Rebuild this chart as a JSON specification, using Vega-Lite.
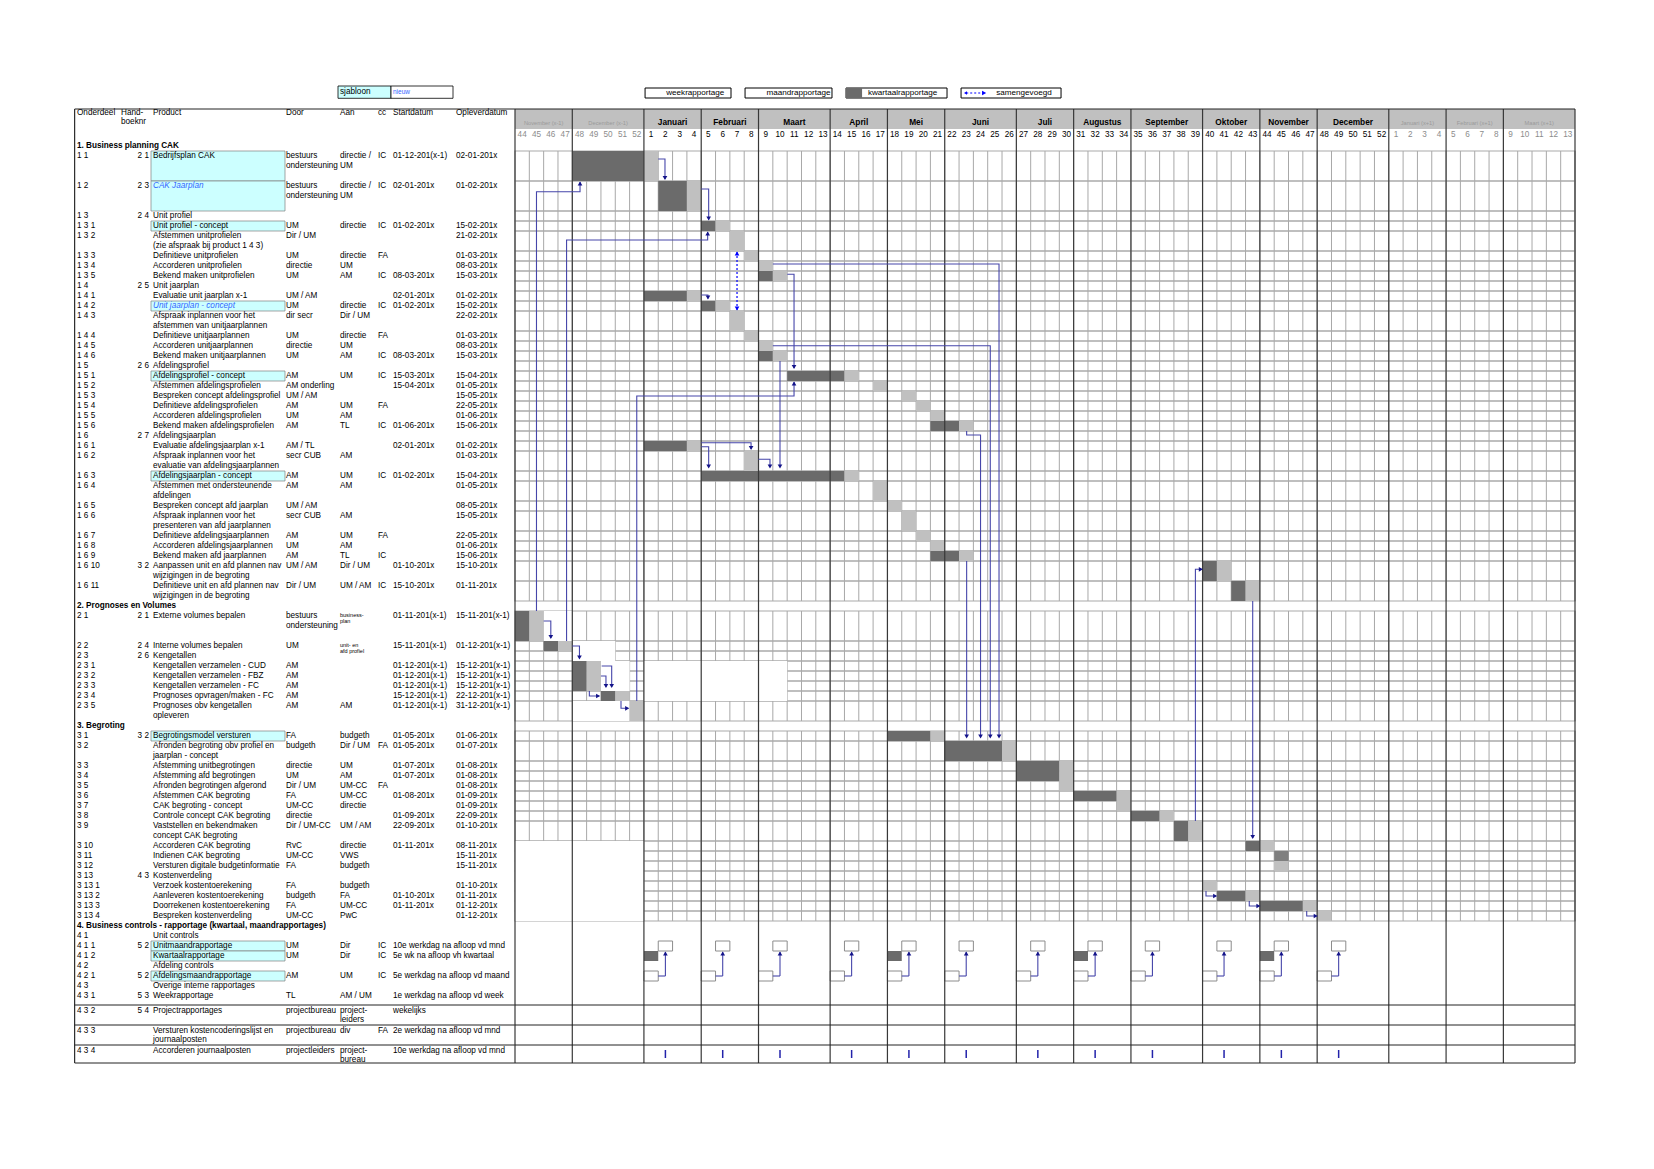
{
"$schema":"https://vega.github.io/schema/vega-lite/v6.json",
"background":"white",
"padding":{"left":74,"top":76,"right":10,"bottom":10},
"spacing":0,
"bounds":"flush",
"config":{"view":{"stroke":null},"font":"Liberation Sans"},
"datasets":{
"cols":[{"col":"nr","ci":0},{"col":"hh","ci":1},{"col":"pr","ci":3},{"col":"do","ci":4},{"col":"aa","ci":5},{"col":"cc","ci":6},{"col":"st","ci":7},{"col":"ei","ci":8}],
"tbl":[
{"r":-3.3,"nr":"Onderdeel","hh":"Hand-","pr":"Product","do":"Door","aa":"Aan","cc":"cc","st":"Startdatum","ei":"Opleverdatum"},
{"r":-2.4,"hh":"boeknr"},
{"r":1,"nr":"1 1","hb":"2 1","pr":"Bedrijfsplan CAK","do":"bestuurs","aa":"directie /","cc":"IC","st":"01-12-201(x-1)","ei":"02-01-201x"},
{"r":2,"do":"ondersteuning","aa":"UM"},
{"r":4,"nr":"1 2","hb":"2 3","do":"bestuurs","aa":"directie /","cc":"IC","st":"02-01-201x","ei":"01-02-201x"},
{"r":5,"do":"ondersteuning","aa":"UM"},
{"r":7,"nr":"1 3","hb":"2 4","pr":"Unit profiel"},
{"r":8,"nr":"1 3 1","pr":"Unit profiel - concept","do":"UM","aa":"directie","cc":"IC","st":"01-02-201x","ei":"15-02-201x"},
{"r":9,"nr":"1 3 2","pr":"Afstemmen unitprofielen","do":"Dir / UM","ei":"21-02-201x"},
{"r":10,"pr":"(zie afspraak bij product 1 4 3)"},
{"r":11,"nr":"1 3 3","pr":"Definitieve unitprofielen","do":"UM","aa":"directie","cc":"FA","ei":"01-03-201x"},
{"r":12,"nr":"1 3 4","pr":"Accorderen unitprofielen","do":"directie","aa":"UM","ei":"08-03-201x"},
{"r":13,"nr":"1 3 5","pr":"Bekend maken unitprofielen","do":"UM","aa":"AM","cc":"IC","st":"08-03-201x","ei":"15-03-201x"},
{"r":14,"nr":"1 4","hb":"2 5","pr":"Unit jaarplan"},
{"r":15,"nr":"1 4 1","pr":"Evaluatie unit jaarplan x-1","do":"UM / AM","st":"02-01-201x","ei":"01-02-201x"},
{"r":16,"nr":"1 4 2","do":"UM","aa":"directie","cc":"IC","st":"01-02-201x","ei":"15-02-201x"},
{"r":17,"nr":"1 4 3","pr":"Afspraak inplannen voor het","do":"dir secr","aa":"Dir / UM","ei":"22-02-201x"},
{"r":18,"pr":"afstemmen van unitjaarplannen"},
{"r":19,"nr":"1 4 4","pr":"Definitieve unitjaarplannen","do":"UM","aa":"directie","cc":"FA","ei":"01-03-201x"},
{"r":20,"nr":"1 4 5","pr":"Accorderen unitjaarplannen","do":"directie","aa":"UM","ei":"08-03-201x"},
{"r":21,"nr":"1 4 6","pr":"Bekend maken unitjaarplannen","do":"UM","aa":"AM","cc":"IC","st":"08-03-201x","ei":"15-03-201x"},
{"r":22,"nr":"1 5","hb":"2 6","pr":"Afdelingsprofiel"},
{"r":23,"nr":"1 5 1","pr":"Afdelingsprofiel - concept","do":"AM","aa":"UM","cc":"IC","st":"15-03-201x","ei":"15-04-201x"},
{"r":24,"nr":"1 5 2","pr":"Afstemmen afdelingsprofielen","do":"AM onderling","st":"15-04-201x","ei":"01-05-201x"},
{"r":25,"nr":"1 5 3","pr":"Bespreken concept afdelingsprofiel","do":"UM / AM","ei":"15-05-201x"},
{"r":26,"nr":"1 5 4","pr":"Definitieve afdelingsprofielen","do":"AM","aa":"UM","cc":"FA","ei":"22-05-201x"},
{"r":27,"nr":"1 5 5","pr":"Accorderen afdelingsprofielen","do":"UM","aa":"AM","ei":"01-06-201x"},
{"r":28,"nr":"1 5 6","pr":"Bekend maken afdelingsprofielen","do":"AM","aa":"TL","cc":"IC","st":"01-06-201x","ei":"15-06-201x"},
{"r":29,"nr":"1 6","hb":"2 7","pr":"Afdelingsjaarplan"},
{"r":30,"nr":"1 6 1","pr":"Evaluatie afdelingsjaarplan x-1","do":"AM / TL","st":"02-01-201x","ei":"01-02-201x"},
{"r":31,"nr":"1 6 2","pr":"Afspraak inplannen voor het","do":"secr CUB","aa":"AM","ei":"01-03-201x"},
{"r":32,"pr":"evaluatie van afdelingsjaarplannen"},
{"r":33,"nr":"1 6 3","pr":"Afdelingsjaarplan - concept","do":"AM","aa":"UM","cc":"IC","st":"01-02-201x","ei":"15-04-201x"},
{"r":34,"nr":"1 6 4","pr":"Afstemmen met ondersteunende","do":"AM","aa":"AM","ei":"01-05-201x"},
{"r":35,"pr":"afdelingen"},
{"r":36,"nr":"1 6 5","pr":"Bespreken concept afd jaarplan","do":"UM / AM","ei":"08-05-201x"},
{"r":37,"nr":"1 6 6","pr":"Afspraak inplannen voor het","do":"secr CUB","aa":"AM","ei":"15-05-201x"},
{"r":38,"pr":"presenteren van afd jaarplannen"},
{"r":39,"nr":"1 6 7","pr":"Definitieve afdelingsjaarplannen","do":"AM","aa":"UM","cc":"FA","ei":"22-05-201x"},
{"r":40,"nr":"1 6 8","pr":"Accorderen afdelingsjaarplannen","do":"UM","aa":"AM","ei":"01-06-201x"},
{"r":41,"nr":"1 6 9","pr":"Bekend maken afd jaarplannen","do":"AM","aa":"TL","cc":"IC","ei":"15-06-201x"},
{"r":42,"nr":"1 6 10","hb":"3 2","pr":"Aanpassen unit en afd plannen nav","do":"UM / AM","aa":"Dir / UM","st":"01-10-201x","ei":"15-10-201x"},
{"r":43,"pr":"wijzigingen in de begroting"},
{"r":44,"nr":"1 6 11","pr":"Definitieve unit en afd plannen nav","do":"Dir / UM","aa":"UM / AM","cc":"IC","st":"15-10-201x","ei":"01-11-201x"},
{"r":45,"pr":"wijzigingen in de begroting"},
{"r":47,"nr":"2 1","hb":"2 1","pr":"Externe volumes bepalen","do":"bestuurs","st":"01-11-201(x-1)","ei":"15-11-201(x-1)"},
{"r":48,"do":"ondersteuning"},
{"r":50,"nr":"2 2","hb":"2 4","pr":"Interne volumes bepalen","do":"UM","st":"15-11-201(x-1)","ei":"01-12-201(x-1)"},
{"r":51,"nr":"2 3","hb":"2 6","pr":"Kengetallen"},
{"r":52,"nr":"2 3 1","pr":"Kengetallen verzamelen - CUD","do":"AM","st":"01-12-201(x-1)","ei":"15-12-201(x-1)"},
{"r":53,"nr":"2 3 2","pr":"Kengetallen verzamelen - FBZ","do":"AM","st":"01-12-201(x-1)","ei":"15-12-201(x-1)"},
{"r":54,"nr":"2 3 3","pr":"Kengetallen verzamelen - FC","do":"AM","st":"01-12-201(x-1)","ei":"15-12-201(x-1)"},
{"r":55,"nr":"2 3 4","pr":"Prognoses opvragen/maken - FC","do":"AM","st":"15-12-201(x-1)","ei":"22-12-201(x-1)"},
{"r":56,"nr":"2 3 5","pr":"Prognoses obv kengetallen","do":"AM","aa":"AM","st":"01-12-201(x-1)","ei":"31-12-201(x-1)"},
{"r":57,"pr":"opleveren"},
{"r":59,"nr":"3 1","hb":"3 2","pr":"Begrotingsmodel versturen","do":"FA","aa":"budgeth","st":"01-05-201x","ei":"01-06-201x"},
{"r":60,"nr":"3 2","pr":"Afronden begroting obv profiel en","do":"budgeth","aa":"Dir / UM","cc":"FA","st":"01-05-201x","ei":"01-07-201x"},
{"r":61,"pr":"jaarplan - concept"},
{"r":62,"nr":"3 3","pr":"Afstemming unitbegrotingen","do":"directie","aa":"UM","st":"01-07-201x","ei":"01-08-201x"},
{"r":63,"nr":"3 4","pr":"Afstemming afd begrotingen","do":"UM","aa":"AM","st":"01-07-201x","ei":"01-08-201x"},
{"r":64,"nr":"3 5","pr":"Afronden begrotingen afgerond","do":"Dir / UM","aa":"UM-CC","cc":"FA","ei":"01-08-201x"},
{"r":65,"nr":"3 6","pr":"Afstemmen CAK begroting","do":"FA","aa":"UM-CC","st":"01-08-201x","ei":"01-09-201x"},
{"r":66,"nr":"3 7","pr":"CAK begroting - concept","do":"UM-CC","aa":"directie","ei":"01-09-201x"},
{"r":67,"nr":"3 8","pr":"Controle concept CAK begroting","do":"directie","st":"01-09-201x","ei":"22-09-201x"},
{"r":68,"nr":"3 9","pr":"Vaststellen en bekendmaken","do":"Dir / UM-CC","aa":"UM / AM","st":"22-09-201x","ei":"01-10-201x"},
{"r":69,"pr":"concept CAK begroting"},
{"r":70,"nr":"3 10","pr":"Accorderen CAK begroting","do":"RvC","aa":"directie","st":"01-11-201x","ei":"08-11-201x"},
{"r":71,"nr":"3 11","pr":"Indienen CAK begroting","do":"UM-CC","aa":"VWS","ei":"15-11-201x"},
{"r":72,"nr":"3 12","pr":"Versturen digitale budgetinformatie","do":"FA","aa":"budgeth","ei":"15-11-201x"},
{"r":73,"nr":"3 13","hb":"4 3","pr":"Kostenverdeling"},
{"r":74,"nr":"3 13 1","pr":"Verzoek kostentoerekening","do":"FA","aa":"budgeth","ei":"01-10-201x"},
{"r":75,"nr":"3 13 2","pr":"Aanleveren kostentoerekening","do":"budgeth","aa":"FA","st":"01-10-201x","ei":"01-11-201x"},
{"r":76,"nr":"3 13 3","pr":"Doorrekenen kostentoerekening","do":"FA","aa":"UM-CC","st":"01-11-201x","ei":"01-12-201x"},
{"r":77,"nr":"3 13 4","pr":"Bespreken kostenverdeling","do":"UM-CC","aa":"PwC","ei":"01-12-201x"},
{"r":79,"nr":"4 1","pr":"Unit controls"},
{"r":80,"nr":"4 1 1","hb":"5 2","pr":"Unitmaandrapportage","do":"UM","aa":"Dir","cc":"IC","st":"10e werkdag na afloop vd mnd"},
{"r":81,"nr":"4 1 2","pr":"Kwartaalrapportage","do":"UM","aa":"Dir","cc":"IC","st":"5e wk na afloop vh kwartaal"},
{"r":82,"nr":"4 2","pr":"Afdeling controls"},
{"r":83,"nr":"4 2 1","hb":"5 2","pr":"Afdelingsmaandrapportage","do":"AM","aa":"UM","cc":"IC","st":"5e werkdag na afloop vd maand"},
{"r":84,"nr":"4 3","pr":"Overige interne rapportages"},
{"r":85,"nr":"4 3 1","hb":"5 3","pr":"Weekrapportage","do":"TL","aa":"AM / UM","st":"1e werkdag na afloop vd week"},
{"r":86.5,"nr":"4 3 2","hb":"5 4","pr":"Projectrapportages","do":"projectbureau","aa":"project-","st":"wekelijks"},
{"r":87.4,"aa":"leiders"},
{"r":88.5,"nr":"4 3 3","pr":"Versturen kostencoderingslijst en","do":"projectbureau","aa":"div","cc":"FA","st":"2e werkdag na afloop vd mnd"},
{"r":89.4,"pr":"journaalposten"},
{"r":90.5,"nr":"4 3 4","pr":"Accorderen journaalposten","do":"projectleiders","aa":"project-","st":"10e werkdag na afloop vd mnd"},
{"r":91.4,"aa":"bureau"}
],
"secs":[{"r":0,"t":"1. Business planning CAK"},{"r":46,"t":"2. Prognoses en Volumes"},{"r":58,"t":"3. Begroting"},{"r":78,"t":"4. Business controls - rapportage (kwartaal, maandrapportages)"}],
"ital":[{"r":4,"t":"CAK Jaarplan"},{"r":16,"t":"Unit jaarplan - concept"}],
"small":[{"r":46.9,"t":"business-"},{"r":47.5,"t":"plan"},{"r":49.85,"t":"unit- en"},{"r":50.45,"t":"afd profiel"}],
"concepts":[{"r":1,"e":3},{"r":4,"e":6},{"r":8,"e":8},{"r":16,"e":16},{"r":23,"e":23},{"r":33,"e":33},{"r":59,"e":59},{"r":80,"e":80},{"r":81,"e":81},{"r":83,"e":83}],
"hl":[{"r":-3.7},{"r":85.9},{"r":87.9},{"r":89.9},{"r":91.7}],
"weeks":[
{"k":-8,"w":44,"m":"November (x-1)","yr":"p"},{"k":-7,"w":45,"m":"November (x-1)","yr":"p"},{"k":-6,"w":46,"m":"November (x-1)","yr":"p"},{"k":-5,"w":47,"m":"November (x-1)","yr":"p"},
{"k":-4,"w":48,"m":"December (x-1)","yr":"p"},{"k":-3,"w":49,"m":"December (x-1)","yr":"p"},{"k":-2,"w":50,"m":"December (x-1)","yr":"p"},{"k":-1,"w":51,"m":"December (x-1)","yr":"p"},{"k":0,"w":52,"m":"December (x-1)","yr":"p"},
{"k":1,"w":1,"m":"Januari","yr":"x"},{"k":2,"w":2,"m":"Januari","yr":"x"},{"k":3,"w":3,"m":"Januari","yr":"x"},{"k":4,"w":4,"m":"Januari","yr":"x"},
{"k":5,"w":5,"m":"Februari","yr":"x"},{"k":6,"w":6,"m":"Februari","yr":"x"},{"k":7,"w":7,"m":"Februari","yr":"x"},{"k":8,"w":8,"m":"Februari","yr":"x"},
{"k":9,"w":9,"m":"Maart","yr":"x"},{"k":10,"w":10,"m":"Maart","yr":"x"},{"k":11,"w":11,"m":"Maart","yr":"x"},{"k":12,"w":12,"m":"Maart","yr":"x"},{"k":13,"w":13,"m":"Maart","yr":"x"},
{"k":14,"w":14,"m":"April","yr":"x"},{"k":15,"w":15,"m":"April","yr":"x"},{"k":16,"w":16,"m":"April","yr":"x"},{"k":17,"w":17,"m":"April","yr":"x"},
{"k":18,"w":18,"m":"Mei","yr":"x"},{"k":19,"w":19,"m":"Mei","yr":"x"},{"k":20,"w":20,"m":"Mei","yr":"x"},{"k":21,"w":21,"m":"Mei","yr":"x"},
{"k":22,"w":22,"m":"Juni","yr":"x"},{"k":23,"w":23,"m":"Juni","yr":"x"},{"k":24,"w":24,"m":"Juni","yr":"x"},{"k":25,"w":25,"m":"Juni","yr":"x"},{"k":26,"w":26,"m":"Juni","yr":"x"},
{"k":27,"w":27,"m":"Juli","yr":"x"},{"k":28,"w":28,"m":"Juli","yr":"x"},{"k":29,"w":29,"m":"Juli","yr":"x"},{"k":30,"w":30,"m":"Juli","yr":"x"},
{"k":31,"w":31,"m":"Augustus","yr":"x"},{"k":32,"w":32,"m":"Augustus","yr":"x"},{"k":33,"w":33,"m":"Augustus","yr":"x"},{"k":34,"w":34,"m":"Augustus","yr":"x"},
{"k":35,"w":35,"m":"September","yr":"x"},{"k":36,"w":36,"m":"September","yr":"x"},{"k":37,"w":37,"m":"September","yr":"x"},{"k":38,"w":38,"m":"September","yr":"x"},{"k":39,"w":39,"m":"September","yr":"x"},
{"k":40,"w":40,"m":"Oktober","yr":"x"},{"k":41,"w":41,"m":"Oktober","yr":"x"},{"k":42,"w":42,"m":"Oktober","yr":"x"},{"k":43,"w":43,"m":"Oktober","yr":"x"},
{"k":44,"w":44,"m":"November","yr":"x"},{"k":45,"w":45,"m":"November","yr":"x"},{"k":46,"w":46,"m":"November","yr":"x"},{"k":47,"w":47,"m":"November","yr":"x"},
{"k":48,"w":48,"m":"December","yr":"x"},{"k":49,"w":49,"m":"December","yr":"x"},{"k":50,"w":50,"m":"December","yr":"x"},{"k":51,"w":51,"m":"December","yr":"x"},{"k":52,"w":52,"m":"December","yr":"x"},
{"k":53,"w":1,"m":"Januari (x+1)","yr":"n"},{"k":54,"w":2,"m":"Januari (x+1)","yr":"n"},{"k":55,"w":3,"m":"Januari (x+1)","yr":"n"},{"k":56,"w":4,"m":"Januari (x+1)","yr":"n"},
{"k":57,"w":5,"m":"Februari (x+1)","yr":"n"},{"k":58,"w":6,"m":"Februari (x+1)","yr":"n"},{"k":59,"w":7,"m":"Februari (x+1)","yr":"n"},{"k":60,"w":8,"m":"Februari (x+1)","yr":"n"},
{"k":61,"w":9,"m":"Maart (x+1)","yr":"n"},{"k":62,"w":10,"m":"Maart (x+1)","yr":"n"},{"k":63,"w":11,"m":"Maart (x+1)","yr":"n"},{"k":64,"w":12,"m":"Maart (x+1)","yr":"n"},{"k":65,"w":13,"m":"Maart (x+1)","yr":"n"}
],
"rows":[{"r":1,"e":3},{"r":4,"e":6},{"r":7,"e":7},{"r":8,"e":8},{"r":9,"e":10},{"r":11,"e":11},{"r":12,"e":12},{"r":13,"e":13},{"r":14,"e":14},{"r":15,"e":15},{"r":16,"e":16},{"r":17,"e":18},{"r":19,"e":19},{"r":20,"e":20},{"r":21,"e":21},{"r":22,"e":22},{"r":23,"e":23},{"r":24,"e":24},{"r":25,"e":25},{"r":26,"e":26},{"r":27,"e":27},{"r":28,"e":28},{"r":29,"e":29},{"r":30,"e":30},{"r":31,"e":32},{"r":33,"e":33},{"r":34,"e":35},{"r":36,"e":36},{"r":37,"e":38},{"r":39,"e":39},{"r":40,"e":40},{"r":41,"e":41},{"r":42,"e":43},{"r":44,"e":45},
{"r":47,"e":49},{"r":50,"e":50},{"r":51,"e":51},{"r":52,"e":52},{"r":53,"e":53},{"r":54,"e":54},{"r":55,"e":55},{"r":56,"e":57},
{"r":59,"e":59},{"r":60,"e":61},{"r":62,"e":62},{"r":63,"e":63},{"r":64,"e":64},{"r":65,"e":65},{"r":66,"e":66},{"r":67,"e":67},{"r":68,"e":69},{"r":70,"e":70},{"r":71,"e":71},{"r":72,"e":72},{"r":73,"e":73},{"r":74,"e":74},{"r":75,"e":75},{"r":76,"e":76},{"r":77,"e":77}],
"bars":[
{"r":47,"e":49,"s":-6,"f":-5,"t":"w"},{"r":50,"e":51,"s":-4,"f":-2,"t":"w"},{"r":52,"e":54,"s":-2,"f":-1,"t":"w"},{"r":52,"e":55,"s":1,"f":10,"t":"w"},{"r":56,"e":57,"s":-4,"f":-1,"t":"w"},{"r":70,"e":77,"s":-8,"f":0,"t":"w"},
{"r":1,"e":3,"s":-4,"f":0,"t":"d"},{"r":1,"e":3,"s":1,"f":1,"t":"g"},
{"r":4,"e":6,"s":2,"f":3,"t":"d"},{"r":4,"e":6,"s":4,"f":4,"t":"g"},
{"r":8,"e":8,"s":5,"f":5,"t":"d"},{"r":8,"e":8,"s":6,"f":6,"t":"g"},
{"r":9,"e":10,"s":7,"f":7,"t":"g"},
{"r":11,"e":11,"s":8,"f":8,"t":"g"},
{"r":12,"e":12,"s":9,"f":9,"t":"g"},
{"r":13,"e":13,"s":9,"f":9,"t":"d"},{"r":13,"e":13,"s":10,"f":10,"t":"g"},
{"r":15,"e":15,"s":1,"f":3,"t":"d"},{"r":15,"e":15,"s":4,"f":4,"t":"g"},
{"r":16,"e":16,"s":5,"f":5,"t":"d"},{"r":16,"e":16,"s":6,"f":6,"t":"g"},
{"r":17,"e":18,"s":7,"f":7,"t":"g"},
{"r":19,"e":19,"s":8,"f":8,"t":"g"},
{"r":20,"e":20,"s":9,"f":9,"t":"g"},
{"r":21,"e":21,"s":9,"f":9,"t":"d"},{"r":21,"e":21,"s":10,"f":10,"t":"g"},
{"r":23,"e":23,"s":11,"f":14,"t":"d"},{"r":23,"e":23,"s":15,"f":15,"t":"g"},
{"r":24,"e":24,"s":17,"f":17,"t":"g"},
{"r":25,"e":25,"s":19,"f":19,"t":"g"},
{"r":26,"e":26,"s":20,"f":20,"t":"g"},
{"r":27,"e":27,"s":21,"f":21,"t":"g"},
{"r":28,"e":28,"s":21,"f":22,"t":"d"},{"r":28,"e":28,"s":23,"f":23,"t":"g"},
{"r":30,"e":30,"s":1,"f":3,"t":"d"},{"r":30,"e":30,"s":4,"f":4,"t":"g"},
{"r":31,"e":32,"s":8,"f":8,"t":"g"},
{"r":33,"e":33,"s":5,"f":14,"t":"d"},{"r":33,"e":33,"s":15,"f":15,"t":"g"},
{"r":34,"e":35,"s":17,"f":17,"t":"g"},
{"r":36,"e":36,"s":18,"f":18,"t":"g"},
{"r":37,"e":38,"s":19,"f":19,"t":"g"},
{"r":39,"e":39,"s":20,"f":20,"t":"g"},
{"r":40,"e":40,"s":21,"f":21,"t":"g"},
{"r":41,"e":41,"s":21,"f":22,"t":"d"},{"r":41,"e":41,"s":23,"f":23,"t":"g"},
{"r":42,"e":43,"s":40,"f":40,"t":"d"},{"r":42,"e":43,"s":41,"f":41,"t":"g"},
{"r":44,"e":45,"s":42,"f":42,"t":"d"},{"r":44,"e":45,"s":43,"f":43,"t":"g"},
{"r":47,"e":49,"s":-8,"f":-8,"t":"d"},{"r":47,"e":49,"s":-7,"f":-7,"t":"g"},
{"r":50,"e":50,"s":-6,"f":-6,"t":"d"},{"r":50,"e":50,"s":-5,"f":-5,"t":"g"},
{"r":52,"e":54,"s":-4,"f":-4,"t":"d"},{"r":52,"e":52,"s":-3,"f":-3,"t":"g"},{"r":53,"e":53,"s":-3,"f":-3,"t":"g"},{"r":54,"e":54,"s":-3,"f":-3,"t":"g"},
{"r":55,"e":55,"s":-2,"f":-2,"t":"d"},{"r":55,"e":55,"s":-1,"f":-1,"t":"g"},
{"r":56,"e":57,"s":0,"f":0,"t":"g"},
{"r":59,"e":59,"s":18,"f":20,"t":"d"},{"r":59,"e":59,"s":21,"f":21,"t":"g"},
{"r":60,"e":61,"s":22,"f":25,"t":"d"},{"r":60,"e":61,"s":26,"f":26,"t":"g"},
{"r":62,"e":63,"s":27,"f":29,"t":"d"},{"r":62,"e":62,"s":30,"f":30,"t":"g"},{"r":63,"e":63,"s":30,"f":30,"t":"g"},
{"r":64,"e":64,"s":30,"f":30,"t":"g"},
{"r":65,"e":65,"s":31,"f":33,"t":"d"},{"r":65,"e":65,"s":34,"f":34,"t":"g"},
{"r":66,"e":66,"s":34,"f":34,"t":"g"},
{"r":67,"e":67,"s":35,"f":36,"t":"d"},{"r":67,"e":67,"s":37,"f":37,"t":"g"},
{"r":68,"e":69,"s":38,"f":38,"t":"d"},{"r":68,"e":69,"s":39,"f":39,"t":"g"},
{"r":70,"e":70,"s":43,"f":43,"t":"d"},{"r":70,"e":70,"s":44,"f":44,"t":"g"},
{"r":71,"e":71,"s":45,"f":45,"t":"m"},
{"r":72,"e":72,"s":45,"f":45,"t":"g"},
{"r":74,"e":74,"s":40,"f":40,"t":"g"},
{"r":75,"e":75,"s":41,"f":42,"t":"d"},{"r":75,"e":75,"s":43,"f":43,"t":"g"},
{"r":76,"e":76,"s":44,"f":46,"t":"d"},{"r":76,"e":76,"s":47,"f":47,"t":"g"},
{"r":77,"e":77,"s":48,"f":48,"t":"g"},
{"r":81,"e":81,"s":1,"f":1,"t":"d"},{"r":81,"e":81,"s":18,"f":18,"t":"d"},{"r":81,"e":81,"s":31,"f":31,"t":"d"},{"r":81,"e":81,"s":44,"f":44,"t":"d"}
],
"mrep":[{"a":1,"u":2},{"a":5,"u":6},{"a":9,"u":10},{"a":14,"u":15},{"a":18,"u":19},{"a":22,"u":23},{"a":27,"u":28},{"a":31,"u":32},{"a":35,"u":36},{"a":40,"u":41},{"a":44,"u":45},{"a":48,"u":49}],
"arrows":[
{"id":1,"o":1,"x":1.5,"r":1.3},{"id":1,"o":2,"x":1.97,"r":1.3},{"id":1,"o":3,"x":1.97,"r":3.3},
{"id":2,"o":1,"x":4.5,"r":4.3},{"id":2,"o":2,"x":5.02,"r":4.3},{"id":2,"o":3,"x":5.02,"r":7.35},
{"id":3,"o":1,"x":-7,"r":46.5},{"id":3,"o":2,"x":-7,"r":4.57},{"id":3,"o":3,"x":-3.96,"r":4.57},{"id":3,"o":4,"x":-3.96,"r":3.6},
{"id":4,"o":1,"x":-4.9,"r":49.5},{"id":4,"o":2,"x":-4.9,"r":9.4},{"id":4,"o":3,"x":4.95,"r":9.4},{"id":4,"o":4,"x":4.95,"r":8.6},
{"id":6,"o":1,"x":9.5,"r":11.8},{"id":6,"o":2,"x":25.29,"r":11.8},{"id":6,"o":3,"x":25.29,"r":59.1},
{"id":7,"o":1,"x":9.5,"r":19.97},{"id":7,"o":2,"x":24.68,"r":19.97},{"id":7,"o":3,"x":24.68,"r":59.1},
{"id":8,"o":1,"x":23.03,"r":28.5},{"id":8,"o":2,"x":23.03,"r":28.9},{"id":8,"o":3,"x":24.0,"r":28.9},{"id":8,"o":4,"x":24.0,"r":59.1},
{"id":9,"o":1,"x":23.03,"r":41.5},{"id":9,"o":2,"x":23.03,"r":59.1},
{"id":10,"o":1,"x":10.51,"r":12.83},{"id":10,"o":2,"x":10.98,"r":12.83},{"id":10,"o":3,"x":10.98,"r":22.2},
{"id":11,"o":1,"x":0,"r":55.5},{"id":11,"o":2,"x":0,"r":25},{"id":11,"o":3,"x":10.98,"r":25},{"id":11,"o":4,"x":10.98,"r":23.6},
{"id":12,"o":1,"x":10,"r":21.5},{"id":12,"o":2,"x":10,"r":32.1},
{"id":13,"o":1,"x":4.5,"r":14.9},{"id":13,"o":2,"x":4.97,"r":14.9},{"id":13,"o":3,"x":4.97,"r":15.25},
{"id":14,"o":1,"x":4.5,"r":29.67},{"id":14,"o":2,"x":7.98,"r":29.67},{"id":14,"o":3,"x":7.98,"r":30.3},
{"id":15,"o":1,"x":4.5,"r":30.07},{"id":15,"o":2,"x":5.02,"r":30.07},{"id":15,"o":3,"x":5.02,"r":32.1},
{"id":16,"o":1,"x":8.49,"r":31.33},{"id":16,"o":2,"x":9.3,"r":31.33},{"id":16,"o":3,"x":9.3,"r":32.1},
{"id":17,"o":1,"x":-6.5,"r":47.5},{"id":17,"o":2,"x":-6.0,"r":47.5},{"id":17,"o":3,"x":-6.0,"r":49.2},
{"id":18,"o":1,"x":-4.5,"r":50},{"id":18,"o":2,"x":-4.0,"r":50},{"id":18,"o":3,"x":-4.0,"r":51.23},
{"id":19,"o":1,"x":-2.45,"r":52},{"id":19,"o":2,"x":-1.75,"r":52},{"id":19,"o":3,"x":-1.75,"r":54.07},
{"id":20,"o":1,"x":-2.5,"r":53},{"id":20,"o":2,"x":-2.15,"r":53},{"id":20,"o":3,"x":-2.15,"r":54.07},
{"id":21,"o":1,"x":-3.31,"r":54.5},{"id":21,"o":2,"x":-3.31,"r":55.0},{"id":21,"o":3,"x":-2.62,"r":55.0},
{"id":22,"o":1,"x":-1.1,"r":55.5},{"id":22,"o":2,"x":-1.1,"r":56.23},{"id":22,"o":3,"x":-0.59,"r":56.23},
{"id":23,"o":1,"x":39.0,"r":67.5},{"id":23,"o":2,"x":39.0,"r":42.33},{"id":23,"o":3,"x":39.44,"r":42.33},
{"id":24,"o":1,"x":43,"r":45.5},{"id":24,"o":2,"x":43,"r":69.2},
{"id":25,"o":1,"x":39.74,"r":74.5},{"id":25,"o":2,"x":39.74,"r":75.0},{"id":25,"o":3,"x":40.44,"r":75.0},
{"id":26,"o":1,"x":42.76,"r":75.5},{"id":26,"o":2,"x":42.76,"r":76.0},{"id":26,"o":3,"x":43.46,"r":76.0},
{"id":27,"o":1,"x":46.77,"r":76.5},{"id":27,"o":2,"x":46.77,"r":77.0},{"id":27,"o":3,"x":47.47,"r":77.0}
],
"dots":[{"o":1,"x":7.0,"r":10.6},{"o":2,"x":7.0,"r":16.4}],
"heads":[
{"x":1.97,"r":3.2,"d":"dn"},{"x":5.02,"r":7.25,"d":"dn"},{"x":-3.96,"r":3.75,"d":"up"},{"x":4.95,"r":8.75,"d":"up"},
{"x":25.29,"r":59.05,"d":"dn"},{"x":24.68,"r":59.05,"d":"dn"},{"x":24.0,"r":59.05,"d":"dn"},{"x":23.03,"r":59.05,"d":"dn"},
{"x":10.98,"r":22.1,"d":"dn"},{"x":10.98,"r":23.75,"d":"up"},{"x":10,"r":32.05,"d":"dn"},{"x":4.97,"r":15.15,"d":"dn"},
{"x":7.98,"r":30.2,"d":"dn"},{"x":5.02,"r":32.05,"d":"dn"},{"x":9.3,"r":32.05,"d":"dn"},
{"x":-6.0,"r":49.1,"d":"dn"},{"x":-4.0,"r":51.15,"d":"dn"},{"x":-1.75,"r":54.0,"d":"dn"},{"x":-2.15,"r":54.0,"d":"dn"},
{"x":-2.7,"r":55.0,"d":"rt"},{"x":-0.67,"r":56.23,"d":"rt"},{"x":39.38,"r":42.33,"d":"rt"},{"x":43,"r":69.1,"d":"dn"},
{"x":40.38,"r":75.0,"d":"rt"},{"x":43.4,"r":76.0,"d":"rt"},{"x":47.4,"r":77.0,"d":"rt"}
],
"dheads":[{"x":7.0,"r":10.75,"d":"up"},{"x":7.0,"r":16.25,"d":"dn"}]
},
"hconcat":[
{"width":441,"height":1000,
"layer":[
{"data":{"values":[{}]},"mark":{"type":"rect","fill":"#ccffff","stroke":"#000","strokeWidth":0.8,"xOffset":-2,"x2Offset":-2},
 "encoding":{"x":{"datum":5,"type":"quantitative","scale":{"domain":[-1,0,1,2,3,4,5,6,7,8,9],"range":[0.7,3,47,75,79,212,266,304,319,382,441],"nice":false,"zero":false},"axis":null},"x2":{"datum":7},
 "y":{"datum":-6.0,"type":"quantitative","scale":{"domain":[-7,93],"reverse":true,"nice":false,"zero":false},"axis":null},"y2":{"datum":-4.77}}},
{"data":{"values":[{}]},"mark":{"type":"rect","fill":"#ffffff","stroke":"#000","strokeWidth":0.8,"xOffset":-2,"x2Offset":-3},
 "encoding":{"x":{"datum":7,"type":"quantitative"},"x2":{"datum":8},"y":{"datum":-6.0,"type":"quantitative"},"y2":{"datum":-4.77}}},
{"data":{"values":[{}]},"mark":{"type":"text","text":"sjabloon","align":"left","baseline":"middle","fontSize":8.2,"color":"#000"},
 "encoding":{"x":{"datum":5,"type":"quantitative"},"y":{"datum":-5.4,"type":"quantitative"}}},
{"data":{"values":[{}]},"mark":{"type":"text","text":"nieuw","align":"left","baseline":"middle","fontSize":6.5,"color":"#3366ff"},
 "encoding":{"x":{"datum":7,"type":"quantitative"},"y":{"datum":-5.4,"type":"quantitative"}}},
{"data":{"name":"concepts"},"mark":{"type":"rect","fill":"#ccffff","stroke":"#808080","strokeWidth":0.7,"xOffset":-2,"x2Offset":-1,"yOffset":-5,"y2Offset":5},
 "encoding":{"x":{"datum":3,"type":"quantitative"},"x2":{"datum":4},"y":{"field":"r","type":"quantitative"},"y2":{"field":"e"}}},
{"data":{"name":"tbl"},
 "transform":[{"fold":["nr","hh","pr","do","aa","cc","st","ei"],"as":["col","t"]},{"filter":"datum.t != null"},{"lookup":"col","from":{"data":{"name":"cols"},"key":"col","fields":["ci"]}}],
 "mark":{"type":"text","align":"left","baseline":"middle","fontSize":8.2,"color":"#000"},
 "encoding":{"x":{"field":"ci","type":"quantitative"},"y":{"field":"r","type":"quantitative"},"text":{"field":"t"}}},
{"data":{"name":"tbl"},"transform":[{"filter":"datum.hb != null"}],
 "mark":{"type":"text","align":"right","baseline":"middle","fontSize":8.2,"color":"#000"},
 "encoding":{"x":{"datum":2,"type":"quantitative"},"y":{"field":"r","type":"quantitative"},"text":{"field":"hb"}}},
{"data":{"name":"secs"},"mark":{"type":"text","align":"left","baseline":"middle","fontSize":8.2,"fontWeight":"bold","color":"#000"},
 "encoding":{"x":{"datum":0,"type":"quantitative"},"y":{"field":"r","type":"quantitative"},"text":{"field":"t"}}},
{"data":{"name":"ital"},"mark":{"type":"text","align":"left","baseline":"middle","fontSize":8.2,"fontStyle":"italic","color":"#3366ff"},
 "encoding":{"x":{"datum":3,"type":"quantitative"},"y":{"field":"r","type":"quantitative"},"text":{"field":"t"}}},
{"data":{"name":"small"},"mark":{"type":"text","align":"left","baseline":"middle","fontSize":5.5,"color":"#000"},
 "encoding":{"x":{"datum":5,"type":"quantitative"},"y":{"field":"r","type":"quantitative"},"text":{"field":"t"}}},
{"data":{"values":[{}]},"mark":{"type":"rule","stroke":"#000","strokeWidth":1},
 "encoding":{"x":{"datum":-1,"type":"quantitative"},"y":{"datum":-3.7,"type":"quantitative"},"y2":{"datum":91.7}}},
{"data":{"name":"hl"},"mark":{"type":"rule","stroke":"#222","strokeWidth":1},
 "encoding":{"x":{"datum":-1,"type":"quantitative"},"x2":{"datum":9},"y":{"field":"r","type":"quantitative"}}}
]},
{"width":1060,"height":1000,
"resolve":{"scale":{"color":"independent"}},
"layer":[
{"data":{"values":[{}]},"mark":{"type":"rect","fill":"#c0c0c0"},
 "encoding":{"x":{"datum":-8.5,"type":"quantitative","scale":{"domain":[-8.5,65.5],"nice":false,"zero":false},"axis":null},"x2":{"datum":65.5},
 "y":{"datum":-3.7,"type":"quantitative","scale":{"domain":[-7,93],"reverse":true,"nice":false,"zero":false},"axis":null},"y2":{"datum":-1.7}}},
{"data":{"name":"weeks"},"mark":{"type":"rule","stroke":"#a8a8a8","strokeWidth":1,"xOffset":7.162},
 "encoding":{"x":{"field":"k","type":"quantitative"},"y":{"datum":0.5,"type":"quantitative"},"y2":{"datum":45.5}}},
{"data":{"name":"weeks"},"mark":{"type":"rule","stroke":"#a8a8a8","strokeWidth":1,"xOffset":7.162},
 "encoding":{"x":{"field":"k","type":"quantitative"},"y":{"datum":46.5,"type":"quantitative"},"y2":{"datum":57.5}}},
{"data":{"name":"weeks"},"mark":{"type":"rule","stroke":"#a8a8a8","strokeWidth":1,"xOffset":7.162},
 "encoding":{"x":{"field":"k","type":"quantitative"},"y":{"datum":58.5,"type":"quantitative"},"y2":{"datum":77.5}}},
{"data":{"name":"rows"},"mark":{"type":"rect","fillOpacity":0,"stroke":"#a9a9a9","strokeWidth":1.2,"yOffset":-5,"y2Offset":5},
 "encoding":{"x":{"datum":-8.5,"type":"quantitative"},"x2":{"datum":65.5},"y":{"field":"r","type":"quantitative"},"y2":{"field":"e"}}},
{"data":{"name":"bars"},"mark":{"type":"rect","xOffset":-7.162,"x2Offset":7.162,"yOffset":-5,"y2Offset":5},
 "encoding":{"x":{"field":"s","type":"quantitative"},"x2":{"field":"f"},"y":{"field":"r","type":"quantitative"},"y2":{"field":"e"},
 "color":{"field":"t","type":"nominal","scale":{"domain":["w","d","g","m"],"range":["#ffffff","#6b6b6b","#c0c0c0","#7f7f7f"]},"legend":null}}},
{"data":{"name":"mrep"},"mark":{"type":"rect","fill":"#ffffff","stroke":"#8c8c8c","strokeWidth":1,"xOffset":-7.162,"x2Offset":7.162,"yOffset":-5,"y2Offset":5},
 "encoding":{"x":{"field":"u","type":"quantitative"},"x2":{"field":"u"},"y":{"datum":80,"type":"quantitative"},"y2":{"datum":80}}},
{"data":{"name":"mrep"},"mark":{"type":"rect","fill":"#ffffff","stroke":"#8c8c8c","strokeWidth":1,"xOffset":-7.162,"x2Offset":7.162,"yOffset":-5,"y2Offset":5},
 "encoding":{"x":{"field":"a","type":"quantitative"},"x2":{"field":"a"},"y":{"datum":83,"type":"quantitative"},"y2":{"datum":83}}},
{"data":{"name":"mrep"},"mark":{"type":"rule","stroke":"#4646aa","strokeWidth":1.1,"xOffset":7.162},
 "encoding":{"x":{"field":"a","type":"quantitative"},"x2":{"field":"u"},"y":{"datum":83,"type":"quantitative"}}},
{"data":{"name":"mrep"},"mark":{"type":"rule","stroke":"#4646aa","strokeWidth":1.1},
 "encoding":{"x":{"field":"u","type":"quantitative"},"y":{"datum":83,"type":"quantitative"},"y2":{"datum":80.6}}},
{"data":{"name":"mrep"},"mark":{"type":"point","shape":"triangle-up","filled":true,"size":22,"opacity":1,"color":"#14148a"},
 "encoding":{"x":{"field":"u","type":"quantitative"},"y":{"datum":80.75,"type":"quantitative"}}},
{"data":{"name":"mrep"},"mark":{"type":"rule","stroke":"#2222aa","strokeWidth":1.5,"yOffset":-4,"y2Offset":4},
 "encoding":{"x":{"field":"u","type":"quantitative"},"y":{"datum":90.8,"type":"quantitative"},"y2":{"datum":90.8}}},
{"data":{"name":"weeks"},"transform":[{"aggregate":[{"op":"min","field":"k","as":"k0"}],"groupby":["m"]}],
 "mark":{"type":"rule","stroke":"#383838","strokeWidth":1.2,"xOffset":-7.162},
 "encoding":{"x":{"field":"k0","type":"quantitative"},"y":{"datum":-3.7,"type":"quantitative"},"y2":{"datum":91.7}}},
{"data":{"values":[{}]},"mark":{"type":"rule","stroke":"#383838","strokeWidth":1.2},
 "encoding":{"x":{"datum":65.5,"type":"quantitative"},"y":{"datum":-3.7,"type":"quantitative"},"y2":{"datum":91.7}}},
{"data":{"name":"hl"},"mark":{"type":"rule","stroke":"#222","strokeWidth":1},
 "encoding":{"x":{"datum":-8.5,"type":"quantitative"},"x2":{"datum":65.5},"y":{"field":"r","type":"quantitative"}}},
{"data":{"name":"arrows"},"mark":{"type":"line","stroke":"#4646aa","strokeWidth":1.1},
 "encoding":{"x":{"field":"x","type":"quantitative"},"y":{"field":"r","type":"quantitative"},"detail":{"field":"id"},"order":{"field":"o"}}},
{"data":{"name":"dots"},"mark":{"type":"line","stroke":"#0000ff","strokeWidth":1.2,"strokeDash":[2,2]},
 "encoding":{"x":{"field":"x","type":"quantitative"},"y":{"field":"r","type":"quantitative"},"order":{"field":"o"}}},
{"data":{"name":"heads"},"mark":{"type":"point","filled":true,"size":22,"opacity":1,"color":"#14148a"},
 "encoding":{"x":{"field":"x","type":"quantitative"},"y":{"field":"r","type":"quantitative"},
 "shape":{"field":"d","type":"nominal","scale":{"domain":["dn","up","rt","lt"],"range":["triangle-down","triangle-up","triangle-right","triangle-left"]},"legend":null}}},
{"data":{"name":"dheads"},"mark":{"type":"point","filled":true,"size":22,"opacity":1,"color":"#0000ff"},
 "encoding":{"x":{"field":"x","type":"quantitative"},"y":{"field":"r","type":"quantitative"},
 "shape":{"field":"d","type":"nominal","legend":null}}},
{"data":{"name":"weeks"},"mark":{"type":"text","align":"center","baseline":"middle","fontSize":8.2},
 "encoding":{"x":{"field":"k","type":"quantitative"},"y":{"datum":-1.1,"type":"quantitative"},"text":{"field":"w"},
 "color":{"field":"yr","type":"nominal","scale":{"domain":["p","x","n"],"range":["#8c8c8c","#000000","#8c8c8c"]},"legend":null}}},
{"data":{"name":"weeks"},"transform":[{"filter":"datum.yr == 'x'"},{"aggregate":[{"op":"mean","field":"k","as":"km"}],"groupby":["m"]}],
 "mark":{"type":"text","align":"center","baseline":"middle","fontSize":8.3,"fontWeight":"bold","color":"#000"},
 "encoding":{"x":{"field":"km","type":"quantitative"},"y":{"datum":-2.33,"type":"quantitative"},"text":{"field":"m"}}},
{"data":{"name":"weeks"},"transform":[{"filter":"datum.yr != 'x'"},{"aggregate":[{"op":"mean","field":"k","as":"km"}],"groupby":["m"]}],
 "mark":{"type":"text","align":"center","baseline":"middle","fontSize":5.7,"color":"#9a9a9a"},
 "encoding":{"x":{"field":"km","type":"quantitative"},"y":{"datum":-2.3,"type":"quantitative"},"text":{"field":"m"}}},
{"data":{"values":[{}]},"mark":{"type":"rect","fill":"#fff","stroke":"#000","strokeWidth":1},
 "encoding":{"x":{"datum":0.58,"type":"quantitative"},"x2":{"datum":6.58},"y":{"datum":-5.8,"type":"quantitative"},"y2":{"datum":-4.8}}},
{"data":{"values":[{}]},"mark":{"type":"rect","fill":"#fff","stroke":"#000","strokeWidth":1},
 "encoding":{"x":{"datum":7.56,"type":"quantitative"},"x2":{"datum":13.63},"y":{"datum":-5.8,"type":"quantitative"},"y2":{"datum":-4.8}}},
{"data":{"values":[{}]},"mark":{"type":"rect","fill":"#fff","stroke":"#000","strokeWidth":1},
 "encoding":{"x":{"datum":14.61,"type":"quantitative"},"x2":{"datum":21.66},"y":{"datum":-5.8,"type":"quantitative"},"y2":{"datum":-4.8}}},
{"data":{"values":[{}]},"mark":{"type":"rect","fill":"#6b6b6b"},
 "encoding":{"x":{"datum":14.61,"type":"quantitative"},"x2":{"datum":15.73},"y":{"datum":-5.8,"type":"quantitative"},"y2":{"datum":-4.8}}},
{"data":{"values":[{}]},"mark":{"type":"rect","fill":"#fff","stroke":"#000","strokeWidth":1},
 "encoding":{"x":{"datum":22.64,"type":"quantitative"},"x2":{"datum":29.62},"y":{"datum":-5.8,"type":"quantitative"},"y2":{"datum":-4.8}}},
{"data":{"values":[{}]},"mark":{"type":"rule","stroke":"#0000ff","strokeWidth":1.2,"strokeDash":[2,2]},
 "encoding":{"x":{"datum":23.0,"type":"quantitative"},"x2":{"datum":24.2},"y":{"datum":-5.3,"type":"quantitative"}}},
{"data":{"values":[{}]},"mark":{"type":"point","shape":"triangle-right","filled":true,"size":22,"opacity":1,"color":"#0000ff"},
 "encoding":{"x":{"datum":24.25,"type":"quantitative"},"y":{"datum":-5.3,"type":"quantitative"}}},
{"data":{"values":[{}]},"mark":{"type":"point","shape":"triangle-left","filled":true,"size":12,"opacity":1,"color":"#0000ff"},
 "encoding":{"x":{"datum":22.95,"type":"quantitative"},"y":{"datum":-5.3,"type":"quantitative"}}},
{"data":{"values":[{}]},"mark":{"type":"text","text":"weekrapportage","align":"left","baseline":"middle","fontSize":8.1,"color":"#000"},
 "encoding":{"x":{"datum":2.06,"type":"quantitative"},"y":{"datum":-5.3,"type":"quantitative"}}},
{"data":{"values":[{}]},"mark":{"type":"text","text":"maandrapportage","align":"left","baseline":"middle","fontSize":8.1,"color":"#000"},
 "encoding":{"x":{"datum":9.06,"type":"quantitative"},"y":{"datum":-5.3,"type":"quantitative"}}},
{"data":{"values":[{}]},"mark":{"type":"text","text":"kwartaalrapportage","align":"left","baseline":"middle","fontSize":8.1,"color":"#000"},
 "encoding":{"x":{"datum":16.14,"type":"quantitative"},"y":{"datum":-5.3,"type":"quantitative"}}},
{"data":{"values":[{}]},"mark":{"type":"text","text":"samengevoegd","align":"left","baseline":"middle","fontSize":8.1,"color":"#000"},
 "encoding":{"x":{"datum":25.1,"type":"quantitative"},"y":{"datum":-5.3,"type":"quantitative"}}}
]}
]
}
